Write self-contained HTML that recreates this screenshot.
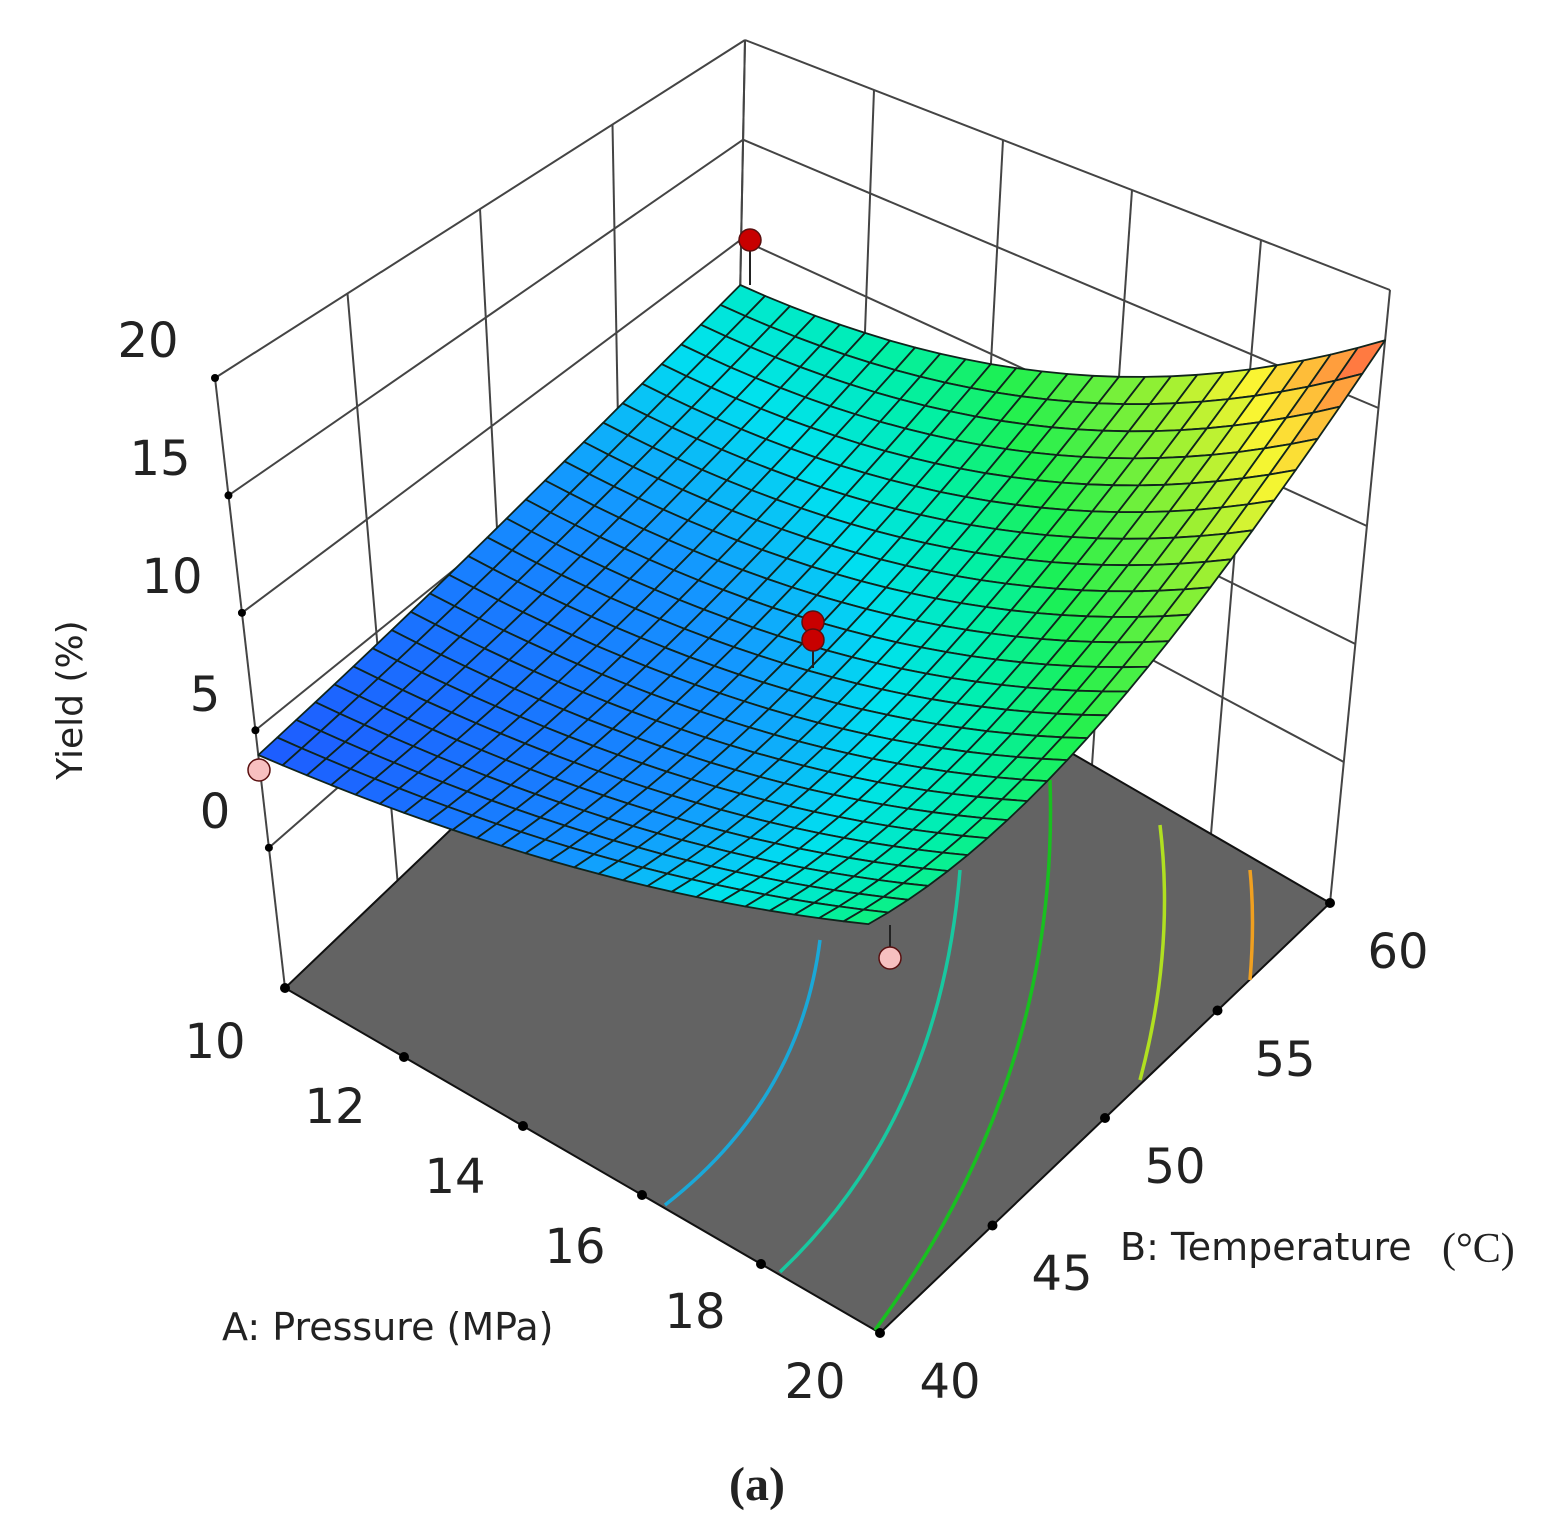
<!DOCTYPE html>
<html><head><meta charset="utf-8"><style>
html,body{margin:0;padding:0;background:#fff;}
svg{display:block;}
text{font-family:"DejaVu Sans","Liberation Sans",sans-serif;fill:#222;}
</style></head><body>
<svg id="s" width="1557" height="1540" viewBox="0 0 1557 1540" xmlns="http://www.w3.org/2000/svg">
<g id="walls"></g>
<polygon points="285,988 880,1333 1330,903 735,558" fill="#636363" stroke="#111" stroke-width="2"/>
<g fill="none" stroke-width="3.5">
<path d="M665,1205 Q800,1100 820,940" stroke="#1aa8d8"/>
<path d="M780,1272 Q940,1120 960,870" stroke="#18c8a0"/>
<path d="M875,1330 Q1060,1080 1050,780" stroke="#18c020"/>
<path d="M1140,1080 Q1175,950 1160,825" stroke="#b0e020"/>
<path d="M1250,980 Q1255,920 1250,870" stroke="#f0a020"/>
</g>
<g id="ticks" fill="#000"></g>
<g id="surf"></g>
<g id="pts"></g>
<g font-size="48">
<text x="148" y="357" text-anchor="middle">20</text>
<text x="160" y="475" text-anchor="middle">15</text>
<text x="172" y="593" text-anchor="middle">10</text>
<text x="205" y="711" text-anchor="middle">5</text>
<text x="215" y="828" text-anchor="middle">0</text>
<text x="215" y="1058" text-anchor="middle">10</text>
<text x="335" y="1123" text-anchor="middle">12</text>
<text x="455" y="1193" text-anchor="middle">14</text>
<text x="575" y="1263" text-anchor="middle">16</text>
<text x="695" y="1328" text-anchor="middle">18</text>
<text x="815" y="1398" text-anchor="middle">20</text>
<text x="950" y="1398" text-anchor="middle">40</text>
<text x="1062" y="1290" text-anchor="middle">45</text>
<text x="1175" y="1183" text-anchor="middle">50</text>
<text x="1285" y="1076" text-anchor="middle">55</text>
<text x="1398" y="968" text-anchor="middle">60</text>
</g>
<text x="0" y="0" font-size="36" fill="#333" text-anchor="middle" transform="translate(82,700) rotate(-90)">Yield  (%)</text>
<text x="222" y="1340" font-size="38" fill="#333">A: Pressure (MPa)</text>
<text x="1120" y="1260" font-size="38" fill="#333">B: Temperature</text>
<text x="1442" y="1262" font-size="42" style="font-family:'Liberation Serif',serif">(°C)</text>
<text x="757" y="1500" font-size="48" font-weight="bold" text-anchor="middle" style="font-family:'Liberation Serif',serif">(a)</text>
</svg>
<script>
var NS="http://www.w3.org/2000/svg";
var B={"00":[285,988],"10":[880,1333],"11":[1330,903],"01":[735,558]};
var T={"00":[215,378],"10":[860,628],"11":[1390,290],"01":[745,40]};
function lerp(a,b,t){return [a[0]+(b[0]-a[0])*t,a[1]+(b[1]-a[1])*t];}
function bil(C,u,v){var a=lerp(C["00"],C["10"],u),b=lerp(C["01"],C["11"],u);return lerp(a,b,v);}
function P(u,v,w){return lerp(bil(B,u,v),bil(T,u,v),w);}
function el(p,tag,at){var e=document.createElementNS(NS,tag);for(var k in at)e.setAttribute(k,at[k]);p.appendChild(e);return e;}
var walls=document.getElementById("walls");
var ls={stroke:"#444","stroke-width":2,fill:"none"};
function line(p,a,b,st){el(p,"line",Object.assign({x1:a[0],y1:a[1],x2:b[0],y2:b[1]},st));}
var zw=[0.23,0.4225,0.615,0.8075,1];
for(var i=0;i<=4;i++){var v=i/4;line(walls,P(0,v,0),P(0,v,1),ls);}
zw.forEach(function(w){line(walls,P(0,0,w),P(0,1,w),ls);line(walls,P(0,1,w),P(1,1,w),ls);});
for(var i=0;i<=5;i++){var u=i/5;line(walls,P(u,1,0),P(u,1,1),ls);}
var tk=document.getElementById("ticks");
zw.forEach(function(w){var p=P(0,0,w);el(tk,"circle",{cx:p[0],cy:p[1],r:4});});
for(var i=1;i<=5;i++){var p=P(i/5,0,0);el(tk,"circle",{cx:p[0],cy:p[1],r:5});}
for(var i=1;i<=4;i++){var p=P(1,i/4,0);el(tk,"circle",{cx:p[0],cy:p[1],r:5});}
el(tk,"circle",{cx:285,cy:988,r:5});
function W(u,v){var b=(0.382*(1-u)+0.58*u)*(1-v)+(0.527*(1-u)+0.918*u)*v;
var du=0.03+0.06*v,dv=0.02+0.1*u;return b-du*4*u*(1-u)-dv*4*v*(1-v);}
var stops=[[0.38,[30,90,255]],[0.45,[20,150,255]],[0.5,[0,225,240]],[0.55,[0,240,170]],[0.6,[30,240,80]],[0.7,[150,240,50]],[0.78,[250,245,50]],[0.85,[255,170,60]],[0.92,[255,80,70]]];
function col(t){if(t<=stops[0][0])return "rgb(30,90,255)";for(var i=1;i<stops.length;i++){if(t<=stops[i][0]){var a=stops[i-1],b=stops[i],f=(t-a[0])/(b[0]-a[0]);var c=a[1].map(function(x,k){return Math.round(x+(b[1][k]-x)*f);});return "rgb("+c.join(",")+")";}}return "rgb(255,80,70)";}
var N=25,cells=[];
for(var i=0;i<N;i++)for(var j=0;j<N;j++)cells.push([i,j]);
cells.sort(function(a,b){return (a[0]-a[1])-(b[0]-b[1]);});
var sg=document.getElementById("surf");
cells.forEach(function(c){var u0=c[0]/N,u1=(c[0]+1)/N,v0=c[1]/N,v1=(c[1]+1)/N;
var q=[[u0,v0],[u1,v0],[u1,v1],[u0,v1]].map(function(a){return P(a[0],a[1],W(a[0],a[1]));});
el(sg,"polygon",{points:q.map(function(p){return p[0].toFixed(1)+","+p[1].toFixed(1);}).join(" "),fill:col(W((u0+u1)/2,(v0+v1)/2)),stroke:"#10241c","stroke-width":1.8,"stroke-linejoin":"round"});});
var pg=document.getElementById("pts");
function pt(x,y,f){el(pg,"circle",{cx:x,cy:y,r:11,fill:f,stroke:"#5a1010","stroke-width":1.5});}
line(pg,[750,240],[750,285],{stroke:"#222","stroke-width":2});
pt(750,240,"#c80000");
line(pg,[813,622],[813,668],{stroke:"#222","stroke-width":2});
pt(813,622,"#c80000");pt(813,640,"#c80000");
line(pg,[890,958],[890,925],{stroke:"#222","stroke-width":2});
pt(890,958,"#f7c0c0");pt(259,770,"#f7c0c0");
</script>
</body></html>
